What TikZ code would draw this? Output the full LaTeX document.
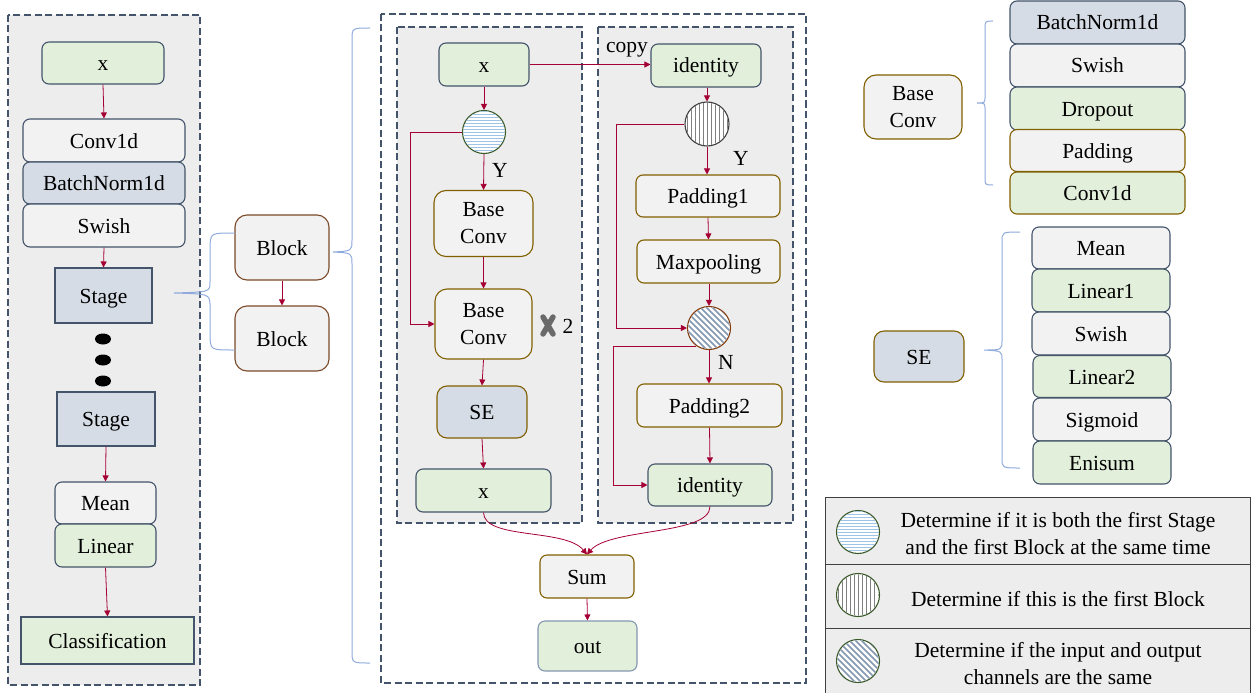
\documentclass[tikz,border=0pt]{standalone}
\usepackage{fontspec}
\setmainfont{Liberation Serif}
\usetikzlibrary{arrows.meta,shapes.geometric}
\definecolor{gfill}{HTML}{E2EFDA}
\definecolor{wfill}{HTML}{F2F2F2}
\definecolor{bfill}{HTML}{D6DCE5}
\definecolor{dblue}{HTML}{44546A}
\definecolor{brd}{HTML}{806000}
\definecolor{blkbrd}{HTML}{7B4A2A}
\definecolor{arrc}{HTML}{A50034}
\definecolor{brc}{HTML}{8FAADC}
\definecolor{panel}{HTML}{EDEDED}
\definecolor{hblue}{HTML}{9DC3E6}
\definecolor{hgray}{HTML}{808080}
\definecolor{hdiag}{HTML}{8497B0}
\definecolor{cgreen}{HTML}{3A5A2A}
\definecolor{cbrown}{HTML}{843C0C}
\definecolor{xgray}{HTML}{6A6A6A}
\newcommand\fsz{\fontsize{21.5}{27}\selectfont}
\newcommand\hatchH[2]{\begin{scope}[shift={(#1.center)}]\clip (0,0) circle[radius=#2pt];
 \foreach \k in {-24,-21,...,24} \draw[hblue,line width=0.8pt] (-30,\k) -- (30,\k);\end{scope}}
\newcommand\hatchV[2]{\begin{scope}[shift={(#1.center)}]\clip (0,0) circle[radius=#2pt];
 \foreach \k in {-24,-20,...,24} \draw[hgray,line width=0.8pt] (\k,-30) -- (\k,30);\end{scope}}
\newcommand\hatchD[2]{\begin{scope}[shift={(#1.center)}]\clip (0,0) circle[radius=#2pt];
 \foreach \k in {-54,-48,...,54} \draw[hdiag,line width=1.6pt] (\k-30,-30) -- (\k+30,30);\end{scope}}
\tikzset{
 box/.style={draw, line width=1.1pt, rounded corners=7pt, inner sep=0pt, align=center, font=\fsz, text height=15pt, text depth=0pt},
 ml/.style={text height={}, text depth={}, yshift=-3pt},
 wh/.style 2 args={minimum width=#1pt, minimum height=#2pt},
 gbox/.style={box, fill=gfill, draw=dblue},
 wbox/.style={box, fill=wfill, draw=dblue},
 bbox/.style={box, fill=bfill, draw=dblue},
 wbr/.style={box, fill=wfill, draw=brd},
 gbr/.style={box, fill=gfill, draw=brd},
 bbr/.style={box, fill=bfill, draw=brd},
 lbl/.style={inner sep=0pt, font=\fsz, text height=15pt, text depth=0pt},
 arr/.style={draw=arrc, line width=0.8pt, -{Triangle[width=6pt,length=6pt]}},
 brace/.style={draw=brc, line width=1pt},
 panelst/.style={draw=dblue, line width=1.2pt, dash pattern=on 7pt off 3.5pt},
 circ/.style={circle, fill=white, line width=1.1pt, inner sep=0pt},
 dot/.style={fill=black, ellipse, minimum width=16pt, minimum height=11pt, inner sep=0pt},
}
\begin{document}
\begin{tikzpicture}[x=1pt,y=-1pt]
\useasboundingbox (0,0) rectangle (1255,693);
% panels
\draw[panelst, fill=panel] (8,15) rectangle (200,685);
\draw[panelst] (381,14) rectangle (806,683);
\draw[panelst, fill=panel] (397,27) rectangle (582,523);
\draw[panelst, fill=panel] (598,27) rectangle (793,523);

% left column
\node[gbox, wh={122}{42}] (lx) at (103,63) {x};
\node[wbox, wh={162}{43}] (lconv) at (104,140.5) {Conv1d};
\node[bbox, wh={162}{42}] (lbn) at (104,183) {BatchNorm1d};
\node[wbox, wh={162}{43}] (lsw) at (104,225.5) {Swish};
\node[bbox, sharp corners, wh={97}{55}] (lst1) at (103.5,295.5) {Stage};
\node[dot] (d1) at (103,339) {};
\node[dot] (d2) at (103,360) {};
\node[dot] (d3) at (103,381) {};
\node[bbox, sharp corners, wh={98}{54}] (lst2) at (106,419) {Stage};
\node[wbox, wh={101}{42}] (lmean) at (105.5,503) {Mean};
\node[gbox, wh={101}{43}] (llin) at (105.5,545.5) {Linear};
\node[gbox, sharp corners, wh={173}{47}] (lcls) at (107.5,640.5) {Classification};
\draw[arr] (lx.south) -- (lconv.north);
\draw[arr] (lsw.south) -- (lst1.north);
\draw[arr] (lst2.south) -- (lmean.north);
\draw[arr] (llin.south) -- (lcls.north);

% blocks
\node[box, fill=wfill, draw=blkbrd, rounded corners=12pt, wh={94}{65}] (blk1) at (282,247.5) {Block};
\node[box, fill=wfill, draw=blkbrd, rounded corners=12pt, wh={94}{65}] (blk2) at (282,338.5) {Block};
\draw[arr] (blk1.south) -- (blk2.north);
\draw[brace] (235,233) .. controls (211,233) .. (210,245) -- (210,282) .. controls (210,292) .. (174,293)
  .. controls (209,294) .. (210,304) -- (210,338) .. controls (211,350) .. (235,350);
\draw[brace] (370,28) .. controls (352,28) .. (352,40) -- (352,240) .. controls (352,251) .. (333,252)
  .. controls (352,253) .. (352,264) -- (352,651) .. controls (352,663) .. (370,663);

% middle left
\node[gbox, wh={90}{43}] (mx) at (484,64.5) {x};
\node[circ, draw=cgreen, minimum size=43pt] (c1) at (484,132) {};
\hatchH{c1}{20.8}
\node[lbl] (y1) at (500,170) {Y};
\node[wbr, ml, rounded corners=12pt, wh={99}{66}] (bc1) at (483.5,220.5) {Base\\Conv};
\node[wbr, ml, rounded corners=12pt, wh={97}{70}] (bc2) at (483.5,321) {Base\\Conv};
\draw[xgray, line width=5.5pt, line cap=round] (543,317) -- (553,334) (553,317) -- (543,334);
\node[lbl] (n2) at (568,326) {2};
\node[bbr, rounded corners=10pt, wh={90}{52}] (se) at (482,412) {SE};
\node[gbox, wh={135}{43}] (mx2) at (483.5,490.5) {x};
\draw[arr] (mx.south) -- (c1.north);
\draw[arr] (c1.south) -- (bc1.north);
\draw[arr] (bc1.south) -- (bc2.north);
\draw[arr] (bc2.south) -- (se.north);
\draw[arr] (se.south) -- (mx2.north);
\draw[arr] (c1.west) -- ++(-51.5,0) |- (bc2.west);

% middle right
\node[gbox, wh={110}{43}] (id1) at (706,65.5) {identity};
\node[lbl] (copy) at (627,45) {copy};
\node[circ, draw=black!75, minimum size=44pt] (c2) at (707,124) {};
\hatchV{c2}{21.3}
\node[lbl] (y2) at (741,158) {Y};
\node[wbr, wh={144}{42}] (pad1) at (708,196) {Padding1};
\node[wbr, wh={143}{43}] (maxp) at (708.5,261.5) {Maxpooling};
\node[circ, draw=cbrown, minimum size=43pt] (c3) at (709,328) {};
\hatchD{c3}{20.8}
\node[lbl] (nn) at (726,362) {N};
\node[wbr, wh={145}{43}] (pad2) at (709.5,405.5) {Padding2};
\node[gbox, wh={124}{42}] (id2) at (710,485) {identity};
\draw[arr] (mx.east) -- (mx.east -| id1.west);
\draw[arr] (id1.south -| c2.north) -- (c2.north);
\draw[arr] (c2.south) -- (pad1.north -| c2.south);
\draw[arr] (pad1.south) -- (maxp.north);
\draw[arr] (maxp.south -| c3.north) -- (c3.north);
\draw[arr] (c3.south) -- (pad2.north -| c3.south);
\draw[arr] (pad2.south) -- (id2.north);
\draw[arr] (c2.west) -- ++(-68,0) |- (c3.west);
\draw[arr] (c3.235) -- ++(-83,0) |- (id2.west);

% sum / out
\node[wbr, wh={94}{43}] (sum) at (587,576.5) {Sum};
\node[box, fill=gfill, draw=hdiag, wh={99}{50}] (out) at (587.5,646) {out};
\draw[arr] (mx2.south) .. controls (484,540) and (565,528) .. (sum.north);
\draw[arr] (id2.south) .. controls (710,535) and (610,528) .. (sum.north);
\draw[arr] (sum.south) -- (out.north);

% Base Conv breakdown
\node[wbr, ml, rounded corners=12pt, wh={98}{64}] (rbc) at (913,104) {Base\\Conv};
\draw[brace] (993,21) .. controls (985,21) .. (985,29) -- (985,96) .. controls (985,103) .. (977,103)
  .. controls (985,103) .. (985,110) -- (985,177) .. controls (985,185) .. (993,185);
\node[bbox, wh={175}{43}] (s1) at (1097.5,22.5) {BatchNorm1d};
\node[wbox, wh={175}{43}] (s2) at (1097.5,65.5) {Swish};
\node[gbox, wh={175}{43}] (s3) at (1097.5,108.5) {Dropout};
\node[wbr, wh={175}{42}] (s4) at (1097.5,150.5) {Padding};
\node[gbr, wh={175}{42}] (s5) at (1097.5,193) {Conv1d};

% SE breakdown
\node[bbr, rounded corners=10pt, wh={90}{51}] (rse) at (919,356.5) {SE};
\draw[brace] (1020,232) .. controls (1002,232) .. (1002,242) -- (1002,340) .. controls (1002,350) .. (984,350)
  .. controls (1002,351) .. (1002,360) -- (1002,458) .. controls (1002,468) .. (1020,468);
\node[wbox, wh={138}{42}] (e1) at (1101,248) {Mean};
\node[gbox, wh={138}{43}] (e2) at (1101,290.5) {Linear1};
\node[wbox, wh={138}{43}] (e3) at (1101,333.5) {Swish};
\node[gbox, wh={138}{42}] (e4) at (1102,376.5) {Linear2};
\node[wbox, wh={138}{43}] (e5) at (1102,419.5) {Sigmoid};
\node[gbox, wh={138}{43}] (e6) at (1102,462.5) {Enisum};

% legend
\draw[draw=black!75, line width=1pt, fill=panel] (825,497) rectangle (1250,700);
\draw[black!75, line width=1pt] (825,564) -- (1250,564) (825,628) -- (1250,628);
\node[circ, draw=cgreen, minimum size=43pt] (g1) at (858,532) {};
\hatchH{g1}{20.8}
\node[circ, draw=cgreen, minimum size=43pt] (g2) at (858,595) {};
\hatchV{g2}{20.8}
\node[circ, draw=cgreen, minimum size=43pt] (g3) at (858,661) {};
\hatchD{g3}{20.8}
\node[lbl, align=center, text height={}, text depth={}] (t1) at (1058,533.5) {Determine if it is both the first Stage\\and the first Block at the same time};
\node[lbl] (t2) at (1058,599) {Determine if this is the first Block};
\node[lbl, align=center, text height={}, text depth={}] (t3) at (1058,664) {Determine if the input and output\\channels are the same};
\end{tikzpicture}
\end{document}
